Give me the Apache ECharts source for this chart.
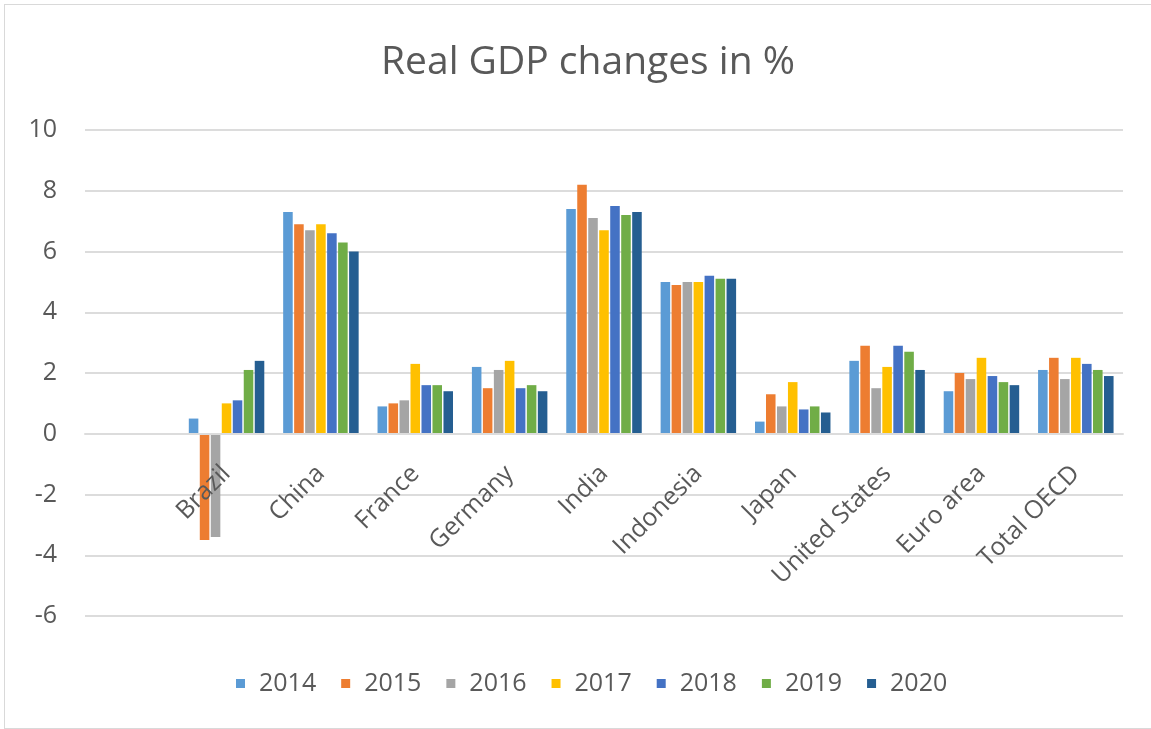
<!DOCTYPE html>
<html>
<head>
<meta charset="utf-8">
<script src="https://cdn.jsdelivr.net/npm/echarts@6/dist/echarts.min.js"></script>
<style>
  html, body { margin: 0; padding: 0; background: #fff; }
  #frame {
    position: absolute; left: 4px; top: 4px; width: 1160px; height: 723px;
    border-top: 1px solid #d9d9d9; border-left: 1px solid #d9d9d9; border-bottom: 1px solid #d9d9d9;
  }
  #chart { position: absolute; left: 0; top: 0; width: 1151px; height: 729px; }
</style>
</head>
<body>
<div id="frame"></div>
<div id="chart"></div>
<script>
// first slot is an empty category, as in the source sheet
var countries = ['', 'Brazil', 'China', 'France', 'Germany', 'India', 'Indonesia', 'Japan', 'United States', 'Euro area', 'Total OECD']
var years = ['2014', '2015', '2016', '2017', '2018', '2019', '2020']
var colors = ['#5B9BD5', '#ED7D31', '#A5A5A5', '#FFC000', '#4472C4', '#70AD47', '#255E91']

// one array per year, values for the 10 countries (blank slot excluded)
var gdp2014 = [0.5, 7.3, 0.9, 2.2, 7.4, 5.0, 0.4, 2.4, 1.4, 2.1]
var gdp2015 = [-3.5, 6.9, 1.0, 1.5, 8.2, 4.9, 1.3, 2.9, 2.0, 2.5]
var gdp2016 = [-3.4, 6.7, 1.1, 2.1, 7.1, 5.0, 0.9, 1.5, 1.8, 1.8]
var gdp2017 = [1.0, 6.9, 2.3, 2.4, 6.7, 5.0, 1.7, 2.2, 2.5, 2.5]
var gdp2018 = [1.1, 6.6, 1.6, 1.5, 7.5, 5.2, 0.8, 2.9, 1.9, 2.3]
var gdp2019 = [2.1, 6.3, 1.6, 1.6, 7.2, 5.1, 0.9, 2.7, 1.7, 2.1]
var gdp2020 = [2.4, 6.0, 1.4, 1.4, 7.3, 5.1, 0.7, 2.1, 1.6, 1.9]
var yearValues = [gdp2014, gdp2015, gdp2016, gdp2017, gdp2018, gdp2019, gdp2020]

var yMin = -6
var yMax = 10

var textColor = '#595959'
var gridColor = '#dcdcdc'
var font = 'Open Sans'

var gridTop = 130
var gridBottom = 113
var plotHeight = 729 - gridTop - gridBottom
// category axis sits at the zero line, labels hang below it
var zeroOffset = -plotHeight * (0 - yMin) / (yMax - yMin)

var myChart = echarts.init(document.getElementById('chart'))
var option = {
  animation: false,
  color: colors,
  textStyle: { fontFamily: font },
  title: {
    text: 'Real GDP changes in %',
    left: 376,
    top: 38,
    textStyle: { color: textColor, fontSize: 39, fontWeight: 'normal', fontFamily: font }
  },
  legend: {
    bottom: 28,
    left: 231,
    icon: 'rect',
    itemWidth: 9,
    itemHeight: 9,
    itemGap: 25,
    textStyle: { color: textColor, fontSize: 25, fontFamily: font, padding: [0, 0, 0, 9] }
  },
  grid: {
    left: 85,
    right: 28,
    top: gridTop,
    bottom: gridBottom,
    containLabel: false,
    outerBoundsMode: 'none'
  },
  xAxis: {
    type: 'category',
    data: countries,
    offset: zeroOffset,
    z: 5,
    axisLine: { onZero: false, lineStyle: { color: gridColor, width: 2 } },
    axisTick: { show: false },
    axisLabel: {
      rotate: 45,
      margin: 36,
      interval: 0,
      color: textColor,
      fontSize: 25,
      fontFamily: font
    }
  },
  yAxis: {
    type: 'value',
    min: yMin,
    max: yMax,
    interval: 2,
    axisLine: { show: false },
    axisTick: { show: false },
    splitLine: { lineStyle: { color: gridColor, width: 2 } },
    axisLabel: { color: textColor, fontSize: 25, fontFamily: font, margin: 28 }
  },
  series: years.map(function (y, i) {
    return {
      name: y,
      type: 'bar',
      data: [null].concat(yearValues[i]),
      barGap: '15%',
      barCategoryGap: '20%'
    }
  })
}
myChart.setOption(option)
</script>
</body>
</html>
